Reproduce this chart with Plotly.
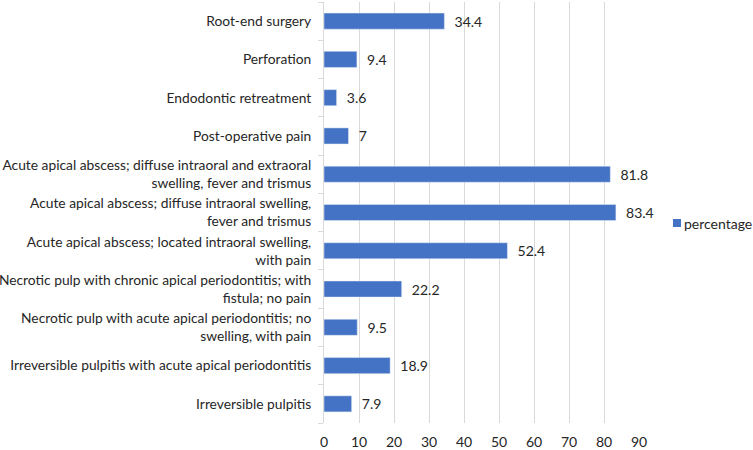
import plotly.graph_objects as go

categories = [
    "Irreversible pulpitis",
    "Irreversible pulpitis with acute apical periodontitis",
    "Necrotic pulp with acute apical periodontitis; no<br>swelling, with pain",
    "Necrotic pulp with chronic apical periodontitis; with<br>fistula; no pain",
    "Acute apical abscess; located intraoral swelling,<br>with pain",
    "Acute apical abscess; diffuse intraoral swelling,<br>fever and trismus",
    "Acute apical abscess; diffuse intraoral and extraoral<br>swelling, fever and trismus",
    "Post-operative pain",
    "Endodontic retreatment",
    "Perforation",
    "Root-end surgery",
]
percentage = [7.9, 18.9, 9.5, 22.2, 52.4, 83.4, 81.8, 7, 3.6, 9.4, 34.4]
x_ticks = [0, 10, 20, 30, 40, 50, 60, 70, 80, 90]
series_name = "percentage"

FONT = "Lato"
TXT = "#262626"
FS = 14
BAR = "#4472C4"
GRID = "#d9d9d9"

L, R, T, B = 324, 114, 2, 27
W, H = 753, 450
PW, PH = W - L - R, H - T - B


def px_x(px):
    return (px - L) / PW


def px_y(py):
    return (H - B - py) / PH


fig = go.Figure(
    go.Bar(
        y=categories,
        x=percentage,
        orientation="h",
        name=series_name,
        marker=dict(color=BAR),
        text=[f"  {v:g}" for v in percentage],
        textposition="outside",
        constraintext="none",
        textfont=dict(family=FONT, size=FS, color=TXT),
        cliponaxis=False,
        showlegend=False,
    )
)

# Legend drawn manually (marker square + label) to the right of the plot
fig.add_shape(
    type="rect",
    xref="paper", yref="paper",
    x0=px_x(673), x1=px_x(681), y0=px_y(227), y1=px_y(219),
    fillcolor=BAR, line=dict(width=0),
)
fig.add_annotation(
    xref="paper", yref="paper",
    x=px_x(682), y=px_y(223),
    xanchor="left", yanchor="middle",
    text=series_name, showarrow=False,
    font=dict(family=FONT, size=FS, color=TXT),
)

fig.update_layout(
    width=W,
    height=H,
    margin=dict(l=L, r=R, t=T, b=B),
    paper_bgcolor="white",
    plot_bgcolor="white",
    bargap=0.58,
    showlegend=False,
    font=dict(family=FONT, size=FS, color=TXT),
    xaxis=dict(
        range=[0, 90],
        tickvals=x_ticks,
        showgrid=True,
        gridcolor=GRID,
        gridwidth=1,
        zeroline=False,
        showline=False,
        ticks="outside",
        ticklen=6,
        tickcolor="rgba(0,0,0,0)",
        automargin=False,
        tickfont=dict(family=FONT, size=FS, color=TXT),
    ),
    yaxis=dict(
        type="category",
        categoryorder="array",
        categoryarray=categories,
        showline=True,
        linecolor=GRID,
        linewidth=1,
        ticks="outside",
        tickson="boundaries",
        ticklen=5,
        tickcolor=GRID,
        showgrid=False,
        automargin=False,
        ticklabelstandoff=9,
        tickfont=dict(family=FONT, size=13.8, color=TXT),
    ),
)

fig.write_html(
    "out.html",
    config={"displayModeBar": False},
    post_script="document.body.style.margin='0px';",
)
